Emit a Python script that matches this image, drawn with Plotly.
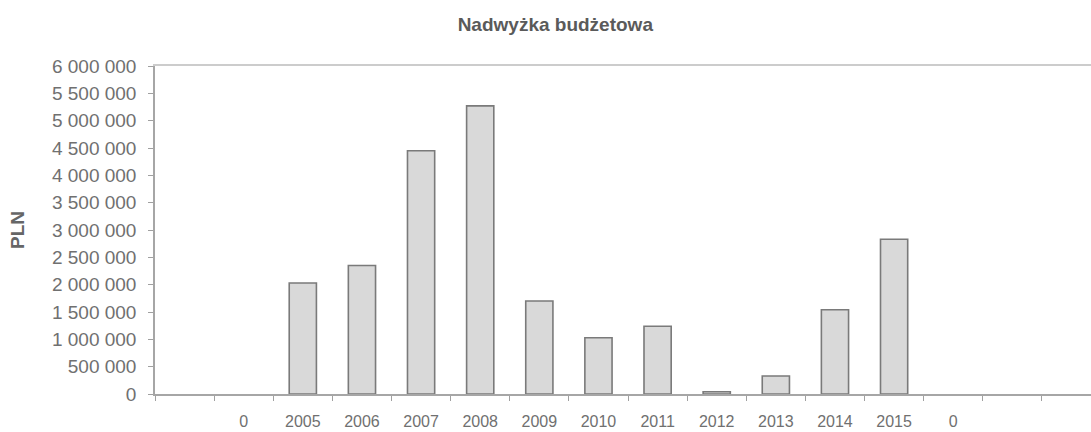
import plotly.graph_objects as go

title_text = "Nadwyżka budżetowa"
y_title = "PLN"

# categories (positions along the axis) and their tick labels
categories = ["c0", "c1", "2005", "2006", "2007", "2008", "2009", "2010",
              "2011", "2012", "2013", "2014", "2015", "c13", "c14"]
tick_labels = ["", "0", "2005", "2006", "2007", "2008", "2009", "2010",
               "2011", "2012", "2013", "2014", "2015", "0", ""]
values = [None, None, 2030000, 2350000, 4450000, 5270000, 1700000, 1030000,
          1240000, 40000, 330000, 1540000, 2830000, None, None]

y_ticks = [0, 500000, 1000000, 1500000, 2000000, 2500000, 3000000,
           3500000, 4000000, 4500000, 5000000, 5500000, 6000000]
y_tick_text = ["0", "500 000", "1 000 000", "1 500 000", "2 000 000",
               "2 500 000", "3 000 000", "3 500 000", "4 000 000",
               "4 500 000", "5 000 000", "5 500 000", "6 000 000"]
y_max = 6000000

fig = go.Figure()
fig.add_trace(go.Bar(
    x=categories, y=values,
    width=0.46,
    marker=dict(color="#d9d9d9", line=dict(color="#7a7a7a", width=1.6)),
    hoverinfo="skip",
))
# empty helper trace so the top overlay axis (upper border line) is drawn
fig.add_trace(go.Scatter(x=[], y=[], xaxis="x2", hoverinfo="skip"))

fig.update_layout(
    width=1091, height=432,
    margin=dict(l=155, r=0, t=66, b=38),
    paper_bgcolor="white", plot_bgcolor="white",
    showlegend=False,
    font=dict(family="Liberation Sans, Arial, sans-serif", color="#707070"),
    title=dict(text=title_text, x=0.509, xanchor="center", y=1 - 24 / 432,
               yanchor="middle", yref="container",
               font=dict(size=19, color="#5a5a5a", weight="bold")),
    xaxis2=dict(overlaying="x", side="top", anchor="y", range=[0, 1],
                showticklabels=False, ticks="", showgrid=False,
                zeroline=False, showline=True, linecolor="#cccccc",
                linewidth=1.5, automargin=False),
)

fig.update_xaxes(
    selector=dict(side="bottom"),
)
fig.layout.xaxis.update(
    type="category",
    categoryorder="array", categoryarray=categories,
    tickmode="array", tickvals=categories, ticktext=tick_labels,
    range=[-0.5, 15.33],
    tickson="boundaries",
    ticks="outside", ticklen=5, tickcolor="#a0a0a0",
    showline=True, linecolor="#a6a6a6", linewidth=1.5,
    showgrid=False, zeroline=False,
    tickfont=dict(size=16, color="#707070"),
    ticklabelstandoff=12,
    automargin=False,
)

fig.layout.yaxis.update(
    range=[0, y_max],
    tickmode="array", tickvals=y_ticks, ticktext=y_tick_text,
    ticks="outside", ticklen=5, tickcolor="#a0a0a0",
    showline=True, linecolor="#a6a6a6", linewidth=1.5,
    showgrid=False, zeroline=False,
    tickfont=dict(size=19, color="#707070"),
    ticklabelstandoff=8,
    automargin=False,
    title=dict(text=y_title, standoff=22,
               font=dict(size=19, color="#666666", weight="bold")),
)

fig.write_html(
    "out.html",
    config={"displayModeBar": False},
    post_script="document.body.style.margin='0';document.body.style.overflow='hidden';",
)
